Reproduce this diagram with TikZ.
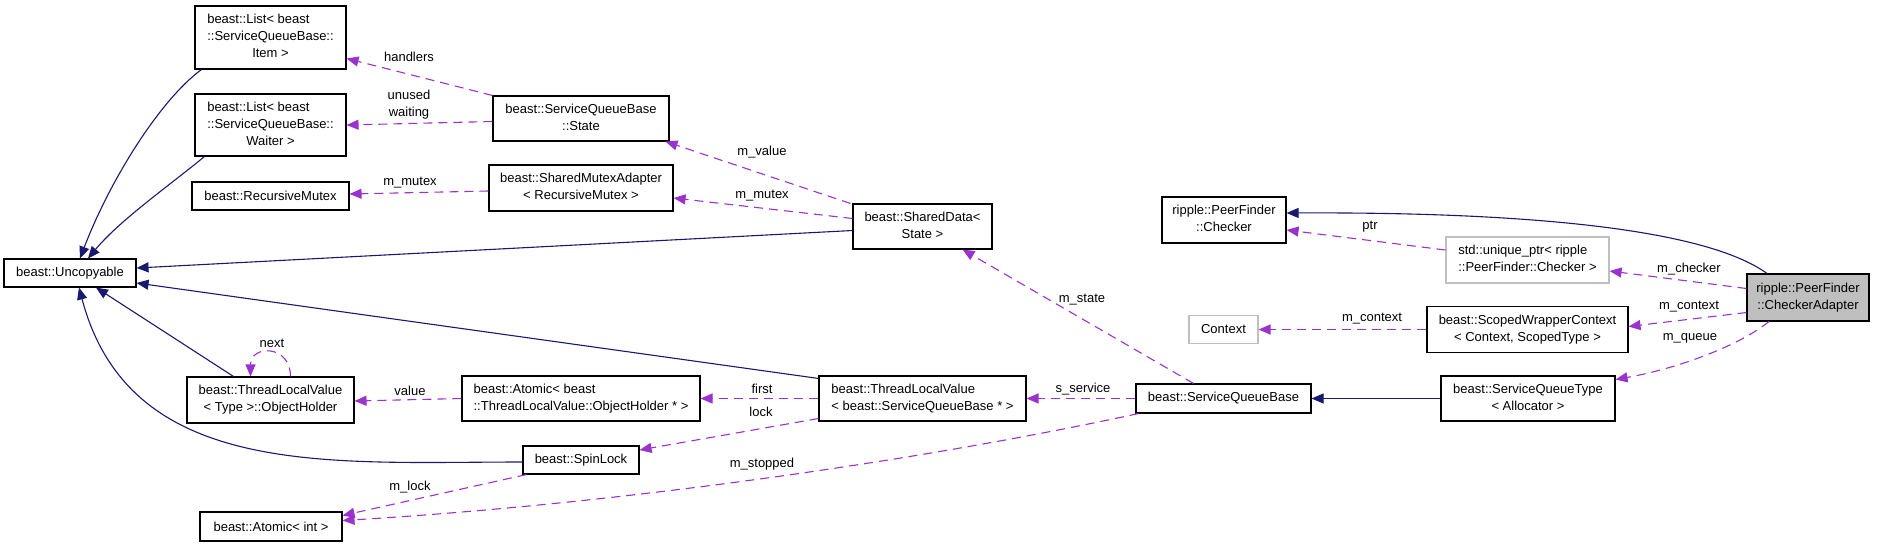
\documentclass[tikz,border=0pt]{standalone}
\usepackage{fontspec}
\setmainfont{Liberation Sans}
\usetikzlibrary{arrows.meta}
\definecolor{inhcol}{HTML}{191970}
\definecolor{usecol}{HTML}{9A32CD}
\definecolor{greyline}{HTML}{BFBFBF}
\newcommand{\lns}[1]{\begin{tabular}{@{}l@{}}#1\end{tabular}}
\newcommand{\lastln}[1]{\multicolumn{1}{@{}c@{}}{#1}}

\begin{document}
\begin{tikzpicture}[x=1pt,y=-1pt,
  font=\fontsize{13}{17}\selectfont,
  sz/.style 2 args={minimum width=#1pt, minimum height=#2pt},
  box/.style={draw, line width=1.1pt, inner sep=0pt, fill=white},
  greybox/.style={box, draw=greyline},
  inh/.style={draw=inhcol, line width=1.1pt, -{Triangle[length=12pt,width=10pt]}},
  use/.style={draw=usecol, line width=1.1pt, dash pattern=on 9pt off 6pt, -{Triangle[length=12pt,width=10pt]}},
  lbl/.style={inner sep=1pt}]
\useasboundingbox (0,0) rectangle (1877,547);
% classes
\node[box, sz={151}{63}] (listitem) at (270.5,37.5) {\lns{beast::List< beast\\::ServiceQueueBase::\\\lastln{Item >}}};
\node[box, sz={151}{62}] (listwaiter) at (270.5,125) {\lns{beast::List< beast\\::ServiceQueueBase::\\\lastln{Waiter >}}};
\node[box, sz={157}{28}] (recmutex) at (270.5,196) {beast::RecursiveMutex};
\node[box, sz={176}{45}] (state) at (581,118.5) {\lns{beast::ServiceQueueBase\\\lastln{::State}}};
\node[box, sz={184}{46}] (smadapter) at (581,188) {\lns{beast::SharedMutexAdapter\\\lastln{< RecursiveMutex >}}};
\node[box, sz={132}{28}] (uncopyable) at (70,273) {beast::Uncopyable};
\node[box, sz={167}{46}] (objholder) at (270.5,400) {\lns{beast::ThreadLocalValue\\\lastln{< Type >::ObjectHolder}}};
\node[box, sz={238}{45}] (atomicoh) at (581,398.5) {\lns{beast::Atomic< beast\\\lastln{::ThreadLocalValue::ObjectHolder * >}}};
\node[box, sz={116}{28}] (spinlock) at (581,460) {beast::SpinLock};
\node[box, sz={142}{29}] (atomicint) at (271,526.5) {beast::Atomic< int >};
\node[box, sz={139}{45}] (shareddata) at (922.5,226.5) {\lns{beast::SharedData<\\\lastln{State >}}};
\node[box, sz={207}{45}] (tlvsqb) at (922.5,398.5) {\lns{beast::ThreadLocalValue\\\lastln{< beast::ServiceQueueBase * >}}};
\node[box, sz={124}{46}] (checker) at (1224,220) {\lns{ripple::PeerFinder\\\lastln{::Checker}}};
\node[greybox, sz={69}{28}] (context) at (1223.5,329.5) {Context};
\node[box, sz={175}{29}] (sqbase) at (1223.5,398.5) {beast::ServiceQueueBase};
\node[greybox, sz={163}{46}] (uniqueptr) at (1527.5,260) {\lns{std::unique\_ptr< ripple\\\lastln{::PeerFinder::Checker >}}};
\node[box, sz={201}{46}] (scopedwc) at (1527.5,329.5) {\lns{beast::ScopedWrapperContext\\\lastln{< Context, ScopedType >}}};
\node[box, sz={174}{45}] (sqtype) at (1528,398.5) {\lns{beast::ServiceQueueType\\\lastln{< Allocator >}}};
\node[box, fill=greyline, sz={122}{47}] (adapter) at (1808,297.5) {\lns{ripple::PeerFinder\\\lastln{::CheckerAdapter}}};
% inheritance
\draw[inh] ([xshift=7pt]listitem.south west) .. controls (160,100) and (110,180) .. ([xshift=10pt]uncopyable.north);
\draw[inh] ([xshift=10pt]listwaiter.south west) .. controls (170,185) and (120,220) .. ([xshift=18pt]uncopyable.north);
\draw[inh] ([xshift=-37pt]objholder.north) -- ([xshift=26pt]uncopyable.south);
\draw[inh] ([yshift=-2pt]spinlock.west) .. controls (330,462) and (130,480) .. ([xshift=9pt]uncopyable.south);
\draw[inh] ([yshift=-4pt]shareddata.west) -- ([yshift=5pt]uncopyable.east);
\draw[inh] ([yshift=-3pt]tlvsqb.north west) -- ([yshift=-10pt]uncopyable.east);
\draw[inh] (sqtype.west) -- (sqbase.east);
\draw[inh] ([xshift=-41pt]adapter.north) .. controls (1700,225) and (1500,212) .. ([yshift=7pt]checker.east);
% members
\draw[use] (state.north west) -- ([yshift=-21pt]listitem.east);
\draw[use] ([yshift=-3pt]state.west) -- (listwaiter.east);
\draw[use] ([yshift=-3pt]smadapter.west) -- ([yshift=2pt]recmutex.east);
\draw[use] ([xshift=-2pt]shareddata.north west) -- ([xshift=-4pt]state.south east);
\draw[use] ([yshift=8pt]shareddata.west) -- ([yshift=-10pt]smadapter.east);
\draw[use] ([xshift=-30pt]sqbase.north) -- ([xshift=40pt]shareddata.south);
\draw[use] (tlvsqb.west) -- (atomicoh.east);
\draw[use] ([yshift=-20pt]tlvsqb.west) -- ([yshift=10pt]spinlock.east);
\draw[use] (atomicoh.west) -- ([yshift=-1pt]objholder.east);
\draw[use] ([xshift=20pt]objholder.north) .. controls +(0,-32) and +(0,-32) .. ([xshift=-20pt]objholder.north);
\draw[use] ([xshift=4pt]spinlock.south west) -- ([yshift=11pt]atomicint.east);
\draw[use] ([xshift=3pt]sqbase.south west) .. controls (900,465) and (600,505) .. ([yshift=6pt]atomicint.east);
\draw[use] (sqbase.west) -- (tlvsqb.east);
\draw[use] ([yshift=10pt]uniqueptr.west) -- ([yshift=-10pt]checker.east);
\draw[use] ([yshift=9pt]adapter.west) -- ([yshift=-11pt]uniqueptr.east);
\draw[use] ([yshift=-15pt]adapter.west) -- ([yshift=3pt]scopedwc.east);
\draw[use] (scopedwc.west) -- (context.east);
\draw[use] ([xshift=-39pt]adapter.south) .. controls (1740,345) and (1680,368) .. ([yshift=19pt]sqtype.east);
% member names
\node[lbl] (lhandlers) at (409,57) {handlers};
\node[lbl, align=center] (lwaiting) at (409,104.5) {unused\\waiting};
\node[lbl] (lmutexa) at (410,183) {m\_mutex};
\node[lbl] (lvalue) at (762,152) {m\_value};
\node[lbl] (lmutexb) at (762,196) {m\_mutex};
\node[lbl] (lstate) at (1082,300) {m\_state};
\node[lbl] (lfirst) at (762,389) {first};
\node[lbl] (llock) at (761,412) {lock};
\node[lbl] (lservice) at (1083,389) {s\_service};
\node[lbl] (lholder) at (410,391) {value};
\node[lbl] (lnext) at (272,343) {next};
\node[lbl] (lmlock) at (410,487) {m\_lock};
\node[lbl] (lstopped) at (762,464) {m\_stopped};
\node[lbl] (lptr) at (1370,227) {ptr};
\node[lbl] (lchecker) at (1689,269) {m\_checker};
\node[lbl] (lcontexta) at (1689,307) {m\_context};
\node[lbl] (lqueue) at (1690,338) {m\_queue};
\node[lbl] (lcontextb) at (1372,319) {m\_context};
\end{tikzpicture}
\end{document}
